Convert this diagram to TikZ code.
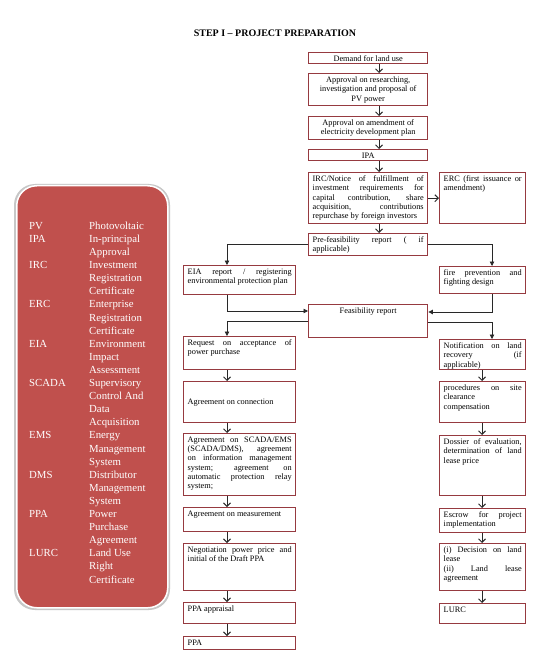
\documentclass[tikz,border=0pt]{standalone}
\usepackage{fontspec}
\setmainfont{Liberation Serif}
\usetikzlibrary{arrows.meta}
\definecolor{boxred}{RGB}{150,58,64}
\definecolor{panelred}{RGB}{192,80,77}
\definecolor{arr}{RGB}{40,40,40}
\newcommand\bx[7]{\node[bx] (#1) at (#2,#3) {\parbox[c][\dimexpr #5pt-#3pt-6pt\relax][#6]{\dimexpr #4pt-#2pt-8pt\relax}{\tolerance=10000\hyphenpenalty=10000\relax #7}};}
\newcommand\varrow[3]{\draw[va] ([xshift=#3pt]#1.south west) -- ([xshift=#3pt]#2.north west);}
\begin{document}
\begin{tikzpicture}[x=1pt,y=-1pt,
 bx/.style={draw=boxred, line width=1.4pt, anchor=north west, inner xsep=4pt, inner ysep=3pt, font=\fontsize{8.3}{9.3}\selectfont, text=black},
 va/.style={draw=arr, line width=1pt, -{Straight Barb[length=3.5pt,width=7pt,line width=1pt]}},
 ea/.style={draw=arr, line width=0.8pt, -{Triangle[length=4.5pt,width=4.5pt]}},
 panel/.style={fill=panelred, draw=white, line width=1.5pt, rounded corners=20pt, anchor=north west, inner sep=0pt}
 ]
\useasboundingbox (0,0) rectangle (550,668);
\fill[white] (0,0) rectangle (550,668);

% title
\node[font=\bfseries\fontsize{10}{12}\selectfont] (title) at (275,33) {STEP I – PROJECT PREPARATION};

% legend panel
\fill[black!22, rounded corners=21pt] (14,184) rectangle (170,610);
\node[panel, minimum width=151pt, minimum height=422pt] (panel) at (16,185) {};
\node[anchor=north west, inner sep=0pt, text=white, font=\fontsize{10.8}{13.1}\selectfont] (legend) at (29,220) {%
\begin{tabular}{@{}p{60pt}@{}l@{}}
PV & Photovoltaic\\
IPA & In-principal\\
 & Approval\\
IRC & Investment\\
 & Registration\\
 & Certificate\\
ERC & Enterprise\\
 & Registration\\
 & Certificate\\
EIA & Environment\\
 & Impact\\
 & Assessment\\
SCADA & Supervisory\\
 & Control And\\
 & Data\\
 & Acquisition\\
EMS & Energy\\
 & Management\\
 & System\\
DMS & Distributor\\
 & Management\\
 & System\\
PPA & Power\\
 & Purchase\\
 & Agreement\\
LURC & Land Use\\
 & Right\\
 & Certificate
\end{tabular}};

% main column
\bx{dem}{308}{52}{427}{63}{t}{\centering Demand for land use}
\bx{apr}{308}{73}{427}{105}{t}{\centering Approval on researching,\\ investigation and proposal of\\ PV power}
\bx{amd}{308}{116}{427}{139}{t}{\centering Approval on amendment of\\ electricity development plan}
\bx{ipa}{308}{149}{427}{160}{t}{\centering IPA}
\bx{irc}{308}{172}{427}{223}{t}{IRC/Notice of fulfillment of\linebreak investment requirements for\linebreak capital contribution, share\linebreak acquisition, contributions\linebreak repurchase by foreign investors}
\bx{erc}{439}{172}{525}{223}{t}{ERC (first issuance or\linebreak amendment)}
\bx{pre}{308}{233}{427}{255}{t}{Pre-feasibility report ( if\linebreak applicable)}
\bx{eia}{183}{265}{295}{294}{t}{EIA report / registering\linebreak environmental protection plan}
\bx{fire}{439}{266}{525}{293}{t}{fire prevention and\linebreak fighting design}
\bx{feas}{308}{304}{427}{337}{t}{\centering Feasibility report}

% left column
\bx{req}{183}{336}{295}{369}{t}{Request on acceptance of\linebreak power purchase}
\bx{con}{183}{381}{295}{422}{c}{Agreement on connection}
\bx{sca}{183}{433}{295}{495}{t}{Agreement on SCADA/EMS\linebreak (SCADA/DMS), agreement\linebreak on information management\linebreak system; agreement on\linebreak automatic protection relay\linebreak system;}
\bx{mea}{183}{507}{295}{531}{t}{Agreement on measurement}
\bx{neg}{183}{543}{295}{590}{t}{Negotiation power price and\linebreak initial of the Draft PPA}
\bx{ppaa}{183}{602}{295}{623}{t}{PPA appraisal}
\bx{ppa}{183}{636}{295}{649}{t}{PPA}

% right column
\bx{not}{439}{339}{525}{369}{t}{Notification on land\linebreak recovery (if\linebreak applicable)}
\bx{pro}{439}{381}{525}{422}{t}{procedures on site\linebreak clearance\\ compensation}
\bx{dos}{439}{435}{525}{495}{t}{Dossier of evaluation,\linebreak determination of land\linebreak lease price}
\bx{esc}{439}{508}{525}{532}{t}{Escrow for project\linebreak implementation}
\bx{dec}{439}{543}{525}{590}{t}{(i) Decision on land\linebreak lease\\ (ii) Land lease\linebreak agreement}
\bx{lurc}{439}{603}{525}{623}{t}{LURC}

% vertical arrows
\varrow{dem}{apr}{71}
\varrow{apr}{amd}{71}
\varrow{amd}{ipa}{71}
\varrow{ipa}{irc}{71}
\varrow{irc}{pre}{71}
\varrow{req}{con}{44}
\varrow{con}{sca}{44}
\varrow{sca}{mea}{44}
\varrow{mea}{neg}{44}
\varrow{neg}{ppaa}{44}
\varrow{ppaa}{ppa}{44}
\varrow{not}{pro}{43}
\varrow{pro}{dos}{43}
\varrow{dos}{esc}{43}
\varrow{esc}{dec}{43}
\varrow{dec}{lurc}{43}
\draw[va] (irc.east) -- (erc.west);

% elbow connectors
\draw[ea] (pre.west) -| ([xshift=44pt]eia.north west);
\draw[ea] (pre.east) -| ([xshift=53pt]fire.north west);
\draw[ea] ([xshift=44pt]eia.south west) |- ([yshift=-7pt]feas.north west);
\draw[ea] ([xshift=53pt]fire.south west) |- ([yshift=-8pt]feas.north east);
\draw[ea] ([yshift=-17pt]feas.north west) -| ([xshift=44pt]req.north west);
\draw[ea] ([yshift=-18pt]feas.north east) -| ([xshift=53pt]not.north west);
\end{tikzpicture}
\end{document}
